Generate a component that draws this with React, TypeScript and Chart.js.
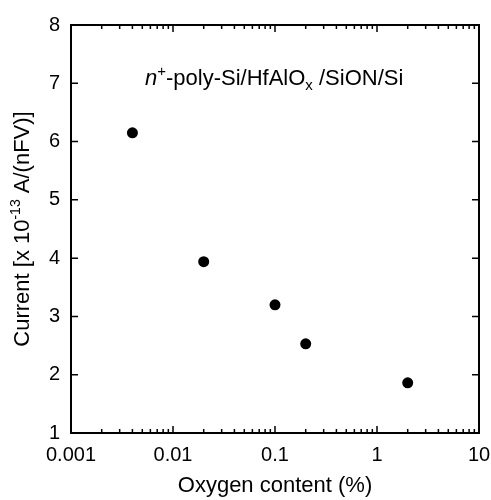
import React, { useEffect, useRef } from 'react';
import { Chart, registerables } from 'chart.js';

Chart.register(...registerables);

const oxygenContent = [0.004, 0.02, 0.1, 0.2, 2];
const currentValues = [6.15, 3.94, 3.2, 2.53, 1.86];
const xTickValues = [0.001, 0.01, 0.1, 1, 10];
const xTickLabels = ['0.001', '0.01', '0.1', '1', '10'];
const yTickValues = [1, 2, 3, 4, 5, 6, 7, 8];
const xTitle = 'Oxygen content (%)';
const FONT = '"Liberation Sans", Arial, Helvetica, sans-serif';

type Part = { text: string; size: number; italic?: boolean; dy?: number };

function measureParts(ctx: CanvasRenderingContext2D, parts: Part[]) {
  let w = 0;
  for (const p of parts) {
    ctx.font = `${p.italic ? 'italic ' : ''}${p.size}px ${FONT}`;
    w += ctx.measureText(p.text).width;
  }
  return w;
}

function drawParts(ctx: CanvasRenderingContext2D, parts: Part[], x: number, y: number) {
  let cx = x;
  ctx.textAlign = 'left';
  ctx.textBaseline = 'alphabetic';
  for (const p of parts) {
    ctx.font = `${p.italic ? 'italic ' : ''}${p.size}px ${FONT}`;
    ctx.fillText(p.text, cx, y + (p.dy || 0));
    cx += ctx.measureText(p.text).width;
  }
}

const framePlugin = {
  id: 'frame',
  afterDraw(chart: any) {
    const { ctx, chartArea } = chart;
    const { left, right, top, bottom } = chartArea;
    const xs = chart.scales.x;
    const ys = chart.scales.y;
    ctx.save();
    ctx.strokeStyle = '#000';
    ctx.fillStyle = '#000';
    ctx.lineWidth = 2;
    ctx.strokeRect(left, top, right - left, bottom - top);

    ctx.lineWidth = 1.5;
    ctx.beginPath();
    for (let d = 0; d < xTickValues.length; d++) {
      const base = xTickValues[d];
      const px = xs.getPixelForValue(base);
      ctx.moveTo(px, bottom);
      ctx.lineTo(px, bottom - 7);
      ctx.moveTo(px, top);
      ctx.lineTo(px, top + 7);
      if (d < xTickValues.length - 1) {
        for (let k = 2; k <= 9; k++) {
          const mx = xs.getPixelForValue(base * k);
          ctx.moveTo(mx, bottom);
          ctx.lineTo(mx, bottom - 4);
          ctx.moveTo(mx, top);
          ctx.lineTo(mx, top + 4);
        }
      }
    }
    for (const v of yTickValues) {
      const py = ys.getPixelForValue(v);
      ctx.moveTo(left, py);
      ctx.lineTo(left + 7, py);
      ctx.moveTo(right, py);
      ctx.lineTo(right - 7, py);
    }
    ctx.stroke();

    const xParts: Part[] = [{ text: xTitle, size: 22 }];
    const xw = measureParts(ctx, xParts);
    drawParts(ctx, xParts, (left + right) / 2 - xw / 2, 492);

    const yParts: Part[] = [
      { text: 'Current [x 10', size: 22 },
      { text: '-13', size: 14, dy: -9 },
      { text: ' A/(nFV)]', size: 22 },
    ];
    const yw = measureParts(ctx, yParts);
    ctx.save();
    ctx.translate(29, (top + bottom) / 2);
    ctx.rotate(-Math.PI / 2);
    drawParts(ctx, yParts, -yw / 2, 0);
    ctx.restore();

    const aParts: Part[] = [
      { text: 'n', size: 22, italic: true },
      { text: '+', size: 15, dy: -9 },
      { text: '-poly-Si/HfAlO', size: 22 },
      { text: 'x', size: 15, dy: 5 },
      { text: ' /SiON/Si', size: 22 },
    ];
    drawParts(ctx, aParts, left + 74, top + 60);
    ctx.restore();
  },
};

export default function App() {
  const ref = useRef<HTMLCanvasElement | null>(null);
  useEffect(() => {
    if (!ref.current) return;
    const chart = new Chart(ref.current, {
      type: 'scatter',
      data: {
        datasets: [
          {
            data: oxygenContent.map((x, i) => ({ x, y: currentValues[i] })),
            pointRadius: 5.5,
            pointHoverRadius: 5.5,
            backgroundColor: '#000',
            borderColor: '#000',
            borderWidth: 0,
            showLine: false,
          },
        ],
      },
      options: {
        animation: false,
        responsive: false,
        layout: { padding: { left: 0, right: 12, top: 25, bottom: 0 } },
        plugins: { legend: { display: false }, tooltip: { enabled: false } },
        scales: {
          x: {
            type: 'logarithmic',
            min: 0.001,
            max: 10,
            grid: { display: false, drawTicks: true, tickLength: 10 },
            border: { display: false },
            afterBuildTicks: (s: any) => {
              s.ticks = xTickValues.map((v) => ({ value: v, major: true }));
            },
            afterFit: (s: any) => {
              s.height = 67;
            },
            ticks: {
              autoSkip: false,
              maxRotation: 0,
              padding: 0,
              color: '#000',
              font: { family: FONT, size: 20 },
              callback: (v: any) => {
                const i = xTickValues.findIndex((t) => Math.abs(t - Number(v)) / t < 1e-6);
                return i >= 0 ? xTickLabels[i] : '';
              },
            },
          },
          y: {
            type: 'linear',
            min: 1,
            max: 8,
            grid: { display: false, drawTicks: false },
            border: { display: false },
            afterFit: (s: any) => {
              s.width = 71;
            },
            ticks: {
              stepSize: 1,
              padding: 11,
              color: '#000',
              font: { family: FONT, size: 20 },
            },
          },
        },
      },
      plugins: [framePlugin],
    } as any);
    return () => chart.destroy();
  }, []);
  return (
    <div style={{ position: 'absolute', left: 0, top: 0, width: 491, height: 500, background: '#fff' }}>
      <canvas ref={ref} width={491} height={500} style={{ display: 'block' }} />
    </div>
  );
}
